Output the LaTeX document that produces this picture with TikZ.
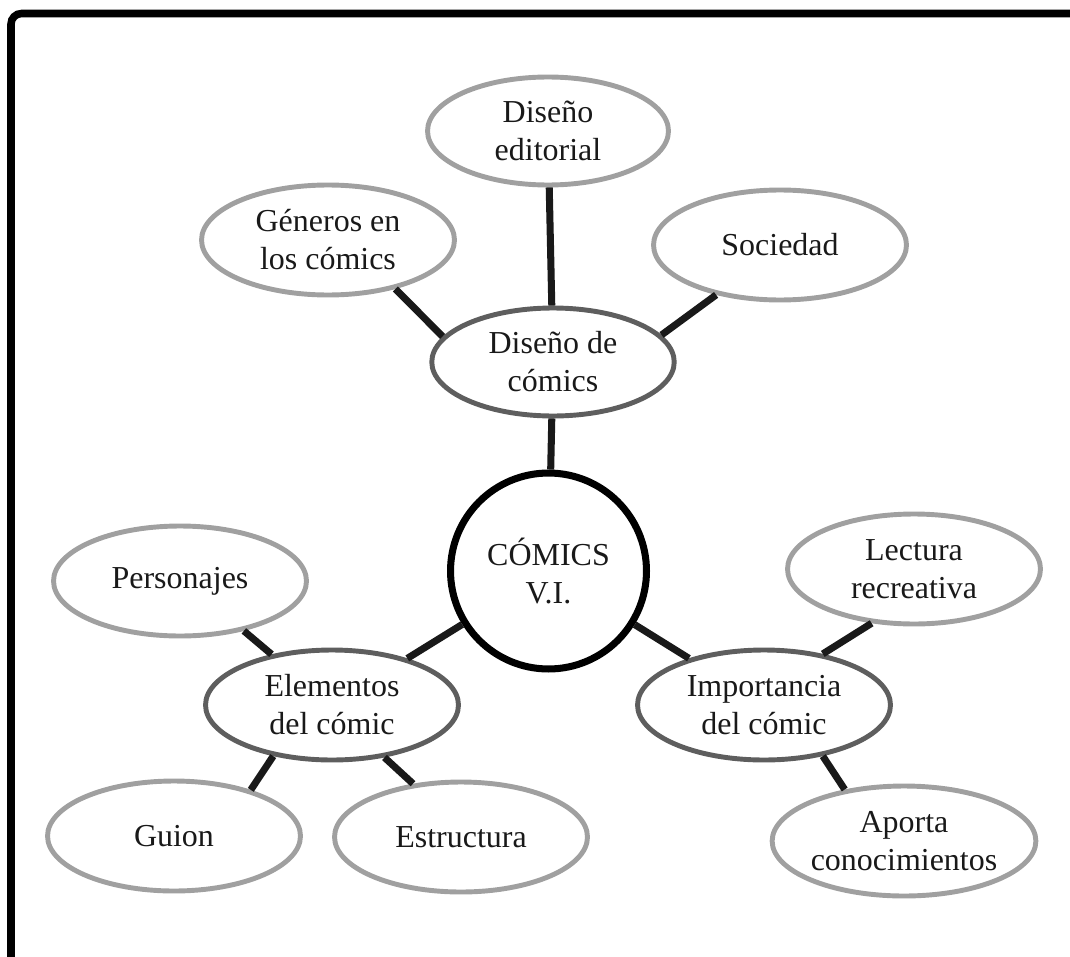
\documentclass[tikz,border=0pt]{standalone}
\usepackage{fontspec}
\setmainfont{Liberation Serif}
\usetikzlibrary{shapes.geometric}

\definecolor{lightring}{HTML}{A0A0A0}
\definecolor{darkring}{HTML}{5E5E5E}

\begin{document}
\begin{tikzpicture}[x=0.02cm, y=-0.02cm,
    outer/.style={draw=lightring, line width=2.8pt, ellipse, inner sep=0pt,
      minimum width=5.06cm, minimum height=2.2cm, align=center,
      font=\fontsize{18.2}{21.6}\selectfont, text=black!90},
    inner/.style={outer, draw=darkring},
    hub/.style={draw=black, line width=4pt, circle, minimum size=3.92cm, inner sep=0pt,
      align=center, font=\fontsize{18.2}{21.6}\selectfont, text=black!90},
    link/.style={line width=4pt, black!90}]
  \useasboundingbox (0,0) rectangle (1070,956);
  % frame
  \draw[line width=4.3pt, rounded corners=6pt] (11,960) -- (11,13.5) -- (1075,13.5);

  % centre
  \node [hub] (comics) at (548.5,571) {CÓMICS\\V.I.};

  % second ring
  \node [inner, minimum width=4.85cm, minimum height=2.16cm] (diseno) at (553,362) {Diseño de\\cómics};
  \node [inner] (elementos) at (332,705) {Elementos\\del cómic};
  \node [inner] (importancia) at (764,705) {Importancia\\del cómic};

  % outer ring
  \node [outer, minimum width=4.82cm, minimum height=2.16cm] (editorial) at (548,131) {Diseño\\editorial};
  \node [outer] (generos) at (328,240) {Géneros en\\los cómics};
  \node [outer] (sociedad) at (780,245) {Sociedad};
  \node [outer] (personajes) at (180,581) {Personajes};
  \node [outer] (guion) at (174,836) {Guion};
  \node [outer] (estructura) at (461,837) {Estructura};
  \node [outer] (lectura) at (914,569) {Lectura\\recreativa};
  \node [outer] (aporta) at (904,841) {Aporta\\conocimientos};

  % links
  \draw [link] (comics) -- (diseno);
  \draw [link] (comics) -- (elementos);
  \draw [link] (comics) -- (importancia);
  \draw [link] (diseno) -- (editorial);
  \draw [link] (diseno.167) -- (generos.-36);
  \draw [link] (diseno.14) -- (sociedad.-142);
  \draw [link] (elementos.140) -- (personajes.-38);
  \draw [link] (elementos.-139) -- (guion.31);
  \draw [link] (elementos.-45) -- (estructura.132);
  \draw [link] (importancia.41) -- (lectura.-128);
  \draw [link] (importancia.-41) -- (aporta.139);
\end{tikzpicture}
\end{document}
